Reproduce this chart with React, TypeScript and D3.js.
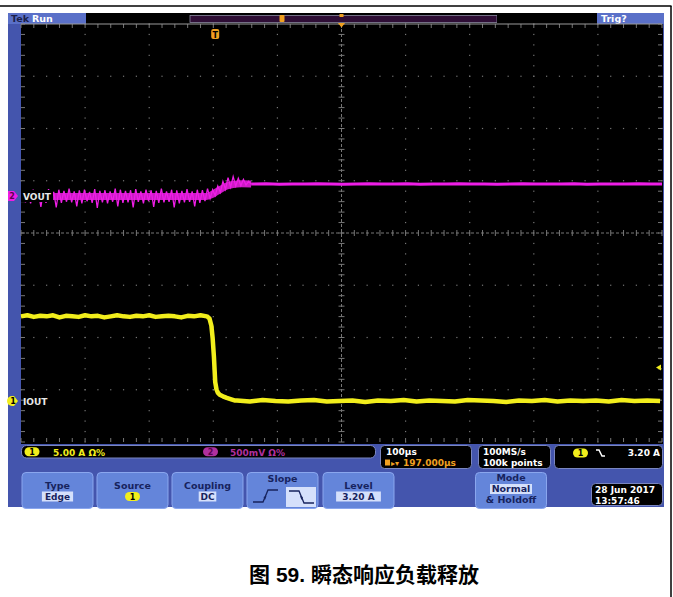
import React from "react";
import * as d3 from "d3";

// ---------- data ----------
// time axis in µs, trigger at 0 (100 µs/div, 10 div)
const timeDomain: [number, number] = [-303, 697];

// VOUT (CH2, 500 mV/div), values in mV relative to channel marker
const voutStartUs = -300;
const voutStepUs = 4;
const voutNoisy = [
  55, -60, 40, -70, 60, -55, 45, -105, 50, -65, 65, -50, 40, -110, 60, -65, 50, -55, 70, -60,
  45, -100, 55, -70, 60, -50, 40, -65, 65, -115, 50, -60, 55, -70, 45, -55, 70, -100, 60, -65,
  50, -60, 55, -110, 65, -55, 45, -70, 60, -50, 55, -105, 50, -65, 70, -60, 45, -55, 60, -110,
  55, -70, 50, -60, 65, -55, 45, -100, 60, -65, 55, -50, 70,
  // transition (load release)
  -25, 60, 5, 95, 35, 140, 65, 175, 85, 185, 95, 170, 100, 160, 105, 140, 115,
];
// smoothed centre of the noisy band
const voutMeanT = [-303, -14, -6, 2, 10, 18, 28, 40, 56];
const voutMean = [-4, -4, 12, 40, 70, 95, 110, 117, 116];
const voutFlatStartUs = 60;
const voutFlatStepUs = 20;
const voutFlat = [
  115, 118, 113, 116, 114, 117, 115, 112, 116, 118, 114, 115, 117, 113, 116, 115, 118,
  114, 116, 113, 115, 117, 114, 116, 115, 118, 113, 115, 116, 114, 117, 115, 116,
];

// IOUT (CH1, 5 A/div), amps
const ioutHighStartUs = -303;
const ioutHighStepUs = 10;
const ioutHigh = [
  8.1, 8.2, 8.05, 8.15, 8.1, 8.2, 8.0, 8.15, 8.1, 8.05, 8.2, 8.1, 8.15, 8.0, 8.1,
  8.2, 8.1, 8.05, 8.15, 8.1, 8.2, 8.05, 8.1, 8.15, 8.1, 8.0, 8.15, 8.1, 8.2, 8.1,
];
const ioutDropT = [-13, -9, -6, -4, -2, 0, 2, 4, 7, 12, 18, 25, 30];
const ioutDropA = [8.1, 7.9, 7.2, 6.0, 4.2, 1.8, 1.1, 0.8, 0.6, 0.45, 0.3, 0.15, 0.05];
const ioutLowStartUs = 34;
const ioutLowStepUs = 20;
const ioutLow = [
  0.05, -0.05, 0.1, 0.0, -0.05, 0.05, 0.1, -0.05, 0.0, 0.05, -0.1, 0.05, 0.0, 0.1, -0.05, 0.05, 0.0,
  -0.05, 0.1, 0.05, 0.0, -0.1, 0.05, 0.0, 0.1, -0.05, 0.05, 0.0, 0.05, -0.05, 0.1, 0.0, 0.05, 0.0,
];

const triggerLevelA = 3.2;

// labels
const topLeftLabel = ["Tek", "Run"];
const topRightLabel = "Trig?";
const ch1Name = "IOUT";
const ch2Name = "VOUT";
const ch1Scale = "5.00 A  Ω%";
const ch2Scale = "500mV  Ω%";
const horizReadout = ["100µs", "197.000µs"];
const acqReadout = ["100MS/s", "100k points"];
const trigReadout = "3.20 A";
const buttonTitles = ["Type", "Source", "Coupling", "Slope", "Level"];
const buttonValues = ["Edge", "1", "DC", "", "3.20 A"];
const modeLines = ["Mode", "Normal", "& Holdoff"];
const dateLines = ["28 Jun 2017", "13:57:46"];
const caption = "图 59. 瞬态响应负载释放";

// ---------- styles ----------
const C = {
  screen: "#4455ad",
  tab: "#5a70c8",
  button: "#6485da",
  buttonTop: "#8aa6ee",
  btnText: "#17235e",
  valueBox: "#d5e0fb",
  ch1: "#f2ee1c",
  ch2: "#ee1ee6",
  ch2dim: "#b0309e",
  orange: "#f0a020",
  grid: "#767676",
};
const FONT = "'DejaVu Sans', Verdana, sans-serif";

export default function App() {
  React.useEffect(() => {
    document.body.style.margin = "0";
  }, []);

  const gx = d3.scaleLinear().domain([0, 10]).range([21, 662]);
  const gy = d3.scaleLinear().domain([0, 8]).range([24, 442]);
  const x = d3.scaleLinear().domain(timeDomain).range([21, 662]);
  const yI = d3.scaleLinear().domain([0, 5]).range([401, 401 - (gy(1) - gy(0))]);
  const yV = d3.scaleLinear().domain([0, 500]).range([196, 196 - (gy(1) - gy(0))]);
  const tEnd = timeDomain[1];

  const voutNoisyPts: [number, number][] = voutNoisy.map((v, i) => [voutStartUs + i * voutStepUs, v]);
  const voutFlatPts: [number, number][] = [
    voutNoisyPts[voutNoisyPts.length - 1],
    ...voutFlat.map((v, i) => [Math.min(tEnd, voutFlatStartUs + i * voutFlatStepUs), v] as [number, number]),
  ];
  const voutMeanPts: [number, number][] = voutMeanT.map((t, i) => [t, voutMean[i]]);
  const ioutPts: [number, number][] = [
    ...ioutHigh.map((v, i) => [ioutHighStartUs + i * ioutHighStepUs, v] as [number, number]),
    ...ioutDropT.map((t, i) => [t, ioutDropA[i]] as [number, number]),
    ...ioutLow.map((v, i) => [Math.min(tEnd, ioutLowStartUs + i * ioutLowStepUs), v] as [number, number]),
  ];

  const lineV = d3.line<[number, number]>().x((d) => x(d[0])).y((d) => yV(d[1]));
  const lineVSmooth = d3.line<[number, number]>().x((d) => x(d[0])).y((d) => yV(d[1])).curve(d3.curveMonotoneX);
  const lineI = d3.line<[number, number]>().x((d) => x(d[0])).y((d) => yI(d[1]));

  const voutNoisyPath = lineV(voutNoisyPts) || "";
  const voutMeanPath = lineVSmooth(voutMeanPts) || "";
  const voutFlatPath = lineV(voutFlatPts) || "";
  const ioutPath = lineI(ioutPts) || "";

  // graticule
  const x0 = gx(0), x1 = gx(10), y0 = gy(0), y1 = gy(8);
  const minorX = d3.range(0, 51).map((i) => gx(i / 5));
  const minorY = d3.range(0, 41).map((i) => gy(i / 5));
  const gridEls: React.ReactNode[] = [];
  d3.range(1, 10).forEach((i) => {
    if (i === 5) return;
    minorY.forEach((yy, k) =>
      gridEls.push(<rect key={`gv${i}-${k}`} x={gx(i) - 0.6} y={yy - 0.6} width={1.2} height={1.2} fill={C.grid} />)
    );
  });
  d3.range(1, 8).forEach((j) => {
    if (j === 4) return;
    minorX.forEach((xx, k) =>
      gridEls.push(<rect key={`gh${j}-${k}`} x={xx - 0.6} y={gy(j) - 0.6} width={1.2} height={1.2} fill={C.grid} />)
    );
  });
  const cx = gx(5), cy = gy(4);
  const ticks: React.ReactNode[] = [];
  minorX.forEach((xx, k) => {
    ticks.push(<line key={`tc${k}`} x1={xx} x2={xx} y1={cy - 3} y2={cy + 3} stroke={C.grid} strokeWidth={1} />);
    ticks.push(<line key={`tt${k}`} x1={xx} x2={xx} y1={y0} y2={y0 + 4} stroke={C.grid} strokeWidth={1} />);
    ticks.push(<line key={`tb${k}`} x1={xx} x2={xx} y1={y1 - 4} y2={y1} stroke={C.grid} strokeWidth={1} />);
  });
  minorY.forEach((yy, k) => {
    ticks.push(<line key={`vc${k}`} x1={cx - 3} x2={cx + 3} y1={yy} y2={yy} stroke={C.grid} strokeWidth={1} />);
    ticks.push(<line key={`vl${k}`} x1={x0} x2={x0 + 4} y1={yy} y2={yy} stroke={C.grid} strokeWidth={1} />);
    ticks.push(<line key={`vr${k}`} x1={x1 - 4} x2={x1} y1={yy} y2={yy} stroke={C.grid} strokeWidth={1} />);
  });

  const buttonX = [22, 97, 172, 247, 323];
  const btnW = 71;

  const pill = (px: number, py: number, fill: string, label: string, color = "#000") => (
    <g>
      <rect x={px} y={py} width={15} height={9} rx={4.5} fill={fill} />
      <text x={px + 7.5} y={py + 7.6} fontSize={8} fontWeight="bold" fill={color} textAnchor="middle">{label}</text>
    </g>
  );

  const trigY = yI(triggerLevelA);

  return (
    <svg width={673} height={597} style={{ position: "absolute", left: 0, top: 0, display: "block" }} fontFamily={FONT}>
      <rect x={0} y={0} width={673} height={597} fill="#fff" />
      {/* frame lines */}
      <line x1={0} x2={671.5} y1={6} y2={6} stroke="#000" strokeWidth={1.5} />
      <line x1={671} x2={671} y1={6} y2={597} stroke="#000" strokeWidth={1.5} />

      {/* screen */}
      <rect x={8} y={13} width={656} height={494} fill={C.screen} />
      {/* top bar */}
      <rect x={8} y={13} width={78} height={11} fill={C.tab} />
      <text x={11} y={22} fontSize={9.5} fontWeight="bold" fill="#1a1f4a">{topLeftLabel[0]}</text>
      <text x={32} y={22} fontSize={9.5} fontWeight="bold" fill="#fff">{topLeftLabel[1]}</text>
      <rect x={86} y={13} width={104} height={11} fill="#000" />
      <rect x={190} y={13} width={307} height={11} fill="#000" />
      <rect x={190} y={15.5} width={307} height={7} fill="#2e0d35" stroke="#8a8aa0" strokeWidth={0.8} />
      <rect x={497} y={13} width={100} height={11} fill="#000" />
      <rect x={597} y={13} width={67} height={11} fill={C.tab} />
      <text x={601} y={22} fontSize={9.5} fontWeight="bold" fill="#fff">{topRightLabel}</text>
      {/* trigger position in record */}
      <rect x={279.5} y={15} width={5} height={7} rx={1} fill={C.orange} />

      {/* graticule */}
      <rect x={x0} y={y0} width={x1 - x0 + 1} height={y1 - y0 + 2} fill="#000" />
      {gridEls}
      <line x1={cx} x2={cx} y1={y0} y2={y1} stroke={C.grid} strokeWidth={1} strokeDasharray="3,2" />
      <line x1={x0} x2={x1} y1={cy} y2={cy} stroke={C.grid} strokeWidth={1} strokeDasharray="3,2" />
      {ticks}
      <line x1={x0} x2={x1} y1={y0} y2={y0} stroke="#9a9a9a" strokeWidth={1} />

      {/* expansion point marker */}
      <path d={`M${cx - 3.5},${y0 - 1} L${cx + 3.5},${y0 - 1} L${cx},${y0 + 3.5} Z`} fill={C.orange} />
      <rect x={cx - 2} y={14} width={4} height={3} fill={C.orange} />
      {/* trigger marker */}
      <rect x={x(0) - 4} y={29} width={8} height={10} rx={2} fill={C.orange} />
      <text x={x(0)} y={37.5} fontSize={8} fontWeight="bold" textAnchor="middle" fill="#000">T</text>

      {/* traces */}
      <path d={voutMeanPath} fill="none" stroke={C.ch2} strokeWidth={7} strokeOpacity={0.85} />
      <path d={voutNoisyPath} fill="none" stroke={C.ch2} strokeWidth={1.3} strokeLinejoin="miter" />
      <path d={voutFlatPath} fill="none" stroke={C.ch2} strokeWidth={3} strokeLinejoin="round" />
      <path d={ioutPath} fill="none" stroke={C.ch1} strokeWidth={4.5} strokeLinejoin="round" />

      {/* trigger level marker */}
      <path d={`M${x1 - 6},${trigY} L${x1 - 1},${trigY - 3} L${x1 - 1},${trigY + 3} Z`} fill={C.ch1} />

      {/* channel markers & labels */}
      <rect x={21} y={yV(0) - 6} width={32} height={12} fill="#000" />
      <path d={`M8,${yV(0) - 5} L14,${yV(0) - 5} L18,${yV(0)} L14,${yV(0) + 5} L8,${yV(0) + 5} Z`} fill={C.ch2} />
      <text x={12} y={yV(0) + 3} fontSize={8} fontWeight="bold" textAnchor="middle" fill="#5a0050">2</text>
      <text x={23} y={yV(0) + 3.5} fontSize={9} fontWeight="bold" fill="#e8e8e8">{ch2Name}</text>
      <path d={`M12,${yI(0) - 5} L14,${yI(0) - 5} L18,${yI(0)} L14,${yI(0) + 5} L12,${yI(0) + 5} A5,5 0 0 1 12,${yI(0) - 5} Z`} fill={C.ch1} />
      <text x={13} y={yI(0) + 3} fontSize={8} fontWeight="bold" textAnchor="middle" fill="#000">1</text>
      <text x={23} y={yI(0) + 3.5} fontSize={9} fontWeight="bold" fill="#e8e8e8">{ch1Name}</text>

      {/* readouts */}
      <rect x={21.5} y={445.5} width={354} height={12.5} rx={5} fill="#000" stroke="#7a86c0" strokeWidth={1} />
      {pill(24.5, 447.3, C.ch1, "1")}
      <text x={53} y={455.5} fontSize={9} fontWeight="bold" fill={C.ch1}>{ch1Scale}</text>
      {pill(203, 447.3, C.ch2dim, "2", "#5a0050")}
      <text x={230} y={455.5} fontSize={9} fontWeight="bold" fill={C.ch2dim}>{ch2Scale}</text>

      <rect x={380.5} y={445.5} width={91} height={23} rx={4} fill="#000" stroke="#7a86c0" strokeWidth={1} />
      <text x={386} y={455} fontSize={9} fontWeight="bold" fill="#fff">{horizReadout[0]}</text>
      <rect x={385} y={459.5} width={5} height={6} fill={C.orange} />
      <text x={391} y={466} fontSize={8} fontWeight="bold" fill={C.orange}>▸▾</text>
      <text x={403} y={466} fontSize={9} fontWeight="bold" fill={C.orange}>{horizReadout[1]}</text>

      <rect x={478.5} y={445.5} width={72} height={23} rx={4} fill="#000" stroke="#7a86c0" strokeWidth={1} />
      <text x={483} y={455} fontSize={9} fontWeight="bold" fill="#fff">{acqReadout[0]}</text>
      <text x={483} y={466} fontSize={9} fontWeight="bold" fill="#fff">{acqReadout[1]}</text>

      <rect x={554.5} y={445.5} width={108} height={23} rx={4} fill="#000" stroke="#7a86c0" strokeWidth={1} />
      {pill(573, 448.5, C.ch1, "1")}
      <path d="M596,450 L599,450 L602,456 L605,456" fill="none" stroke="#fff" strokeWidth={1.5} />
      <text x={660} y={455.5} fontSize={9} fontWeight="bold" fill="#fff" textAnchor="end">{trigReadout}</text>

      {/* buttons */}
      {buttonTitles.map((t, i) => {
        const bx = buttonX[i];
        const isSlope = t === "Slope";
        const isSource = t === "Source";
        return (
          <g key={t}>
            <rect x={bx} y={472.5} width={btnW} height={36} rx={4} fill={C.button} stroke={C.buttonTop} strokeWidth={1} />
            <text x={bx + btnW / 2} y={isSlope ? 482 : 489} fontSize={9.5} fontWeight="bold" textAnchor="middle" fill={C.btnText}>{t}</text>
            {isSource && pill(bx + btnW / 2 - 7.5, 492, C.ch1, "1")}
            {!isSource && !isSlope && buttonValues[i] !== "" && (
              <g>
                <rect x={bx + btnW / 2 - (buttonValues[i].length * 3.4 + 2)} y={491.5} width={buttonValues[i].length * 6.8 + 4} height={10} fill={C.valueBox} />
                <text x={bx + btnW / 2} y={499.5} fontSize={9} fontWeight="bold" textAnchor="middle" fill={C.btnText}>{buttonValues[i]}</text>
              </g>
            )}
            {isSlope && (
              <g>
                <path d={`M${bx + 6},${502} L${bx + 16},${502} L${bx + 21},${490} L${bx + 31},${490}`} fill="none" stroke={C.btnText} strokeWidth={1.3} />
                <path d={`M${bx + 16.5},${497} l3,-1 l-1.5,4 Z`} fill={C.btnText} />
                <rect x={bx + 39} y={487} width={30} height={20} fill={C.valueBox} />
                <path d={`M${bx + 42},${491} L${bx + 52},${491} L${bx + 57},${503} L${bx + 67},${503}`} fill="none" stroke={C.btnText} strokeWidth={1.3} />
                <path d={`M${bx + 53},${496} l3,1 l-1.5,3 Z`} fill={C.btnText} />
              </g>
            )}
          </g>
        );
      })}
      {/* mode button */}
      <rect x={475.5} y={472.5} width={71} height={36} rx={4} fill={C.button} stroke={C.buttonTop} strokeWidth={1} />
      <text x={511} y={481} fontSize={9.5} fontWeight="bold" textAnchor="middle" fill={C.btnText}>{modeLines[0]}</text>
      <rect x={490} y={484} width={42} height={10} fill={C.valueBox} />
      <text x={511} y={492} fontSize={9.5} fontWeight="bold" textAnchor="middle" fill={C.btnText}>{modeLines[1]}</text>
      <text x={511} y={503} fontSize={9.5} fontWeight="bold" textAnchor="middle" fill={C.btnText}>{modeLines[2]}</text>

      {/* date */}
      <rect x={591.5} y={483.5} width={71} height={22} rx={4} fill="#000" stroke="#7a86c0" strokeWidth={1} />
      <text x={595} y={493} fontSize={9} fontWeight="bold" fill="#fff">{dateLines[0]}</text>
      <text x={595} y={503.5} fontSize={9} fontWeight="bold" fill="#fff">{dateLines[1]}</text>

      {/* caption */}
      <text x={364} y={582} fontSize={21} fontWeight="bold" textAnchor="middle" fill="#000"
        fontFamily="'Liberation Sans', 'Noto Sans CJK SC', sans-serif">{caption}</text>
    </svg>
  );
}
